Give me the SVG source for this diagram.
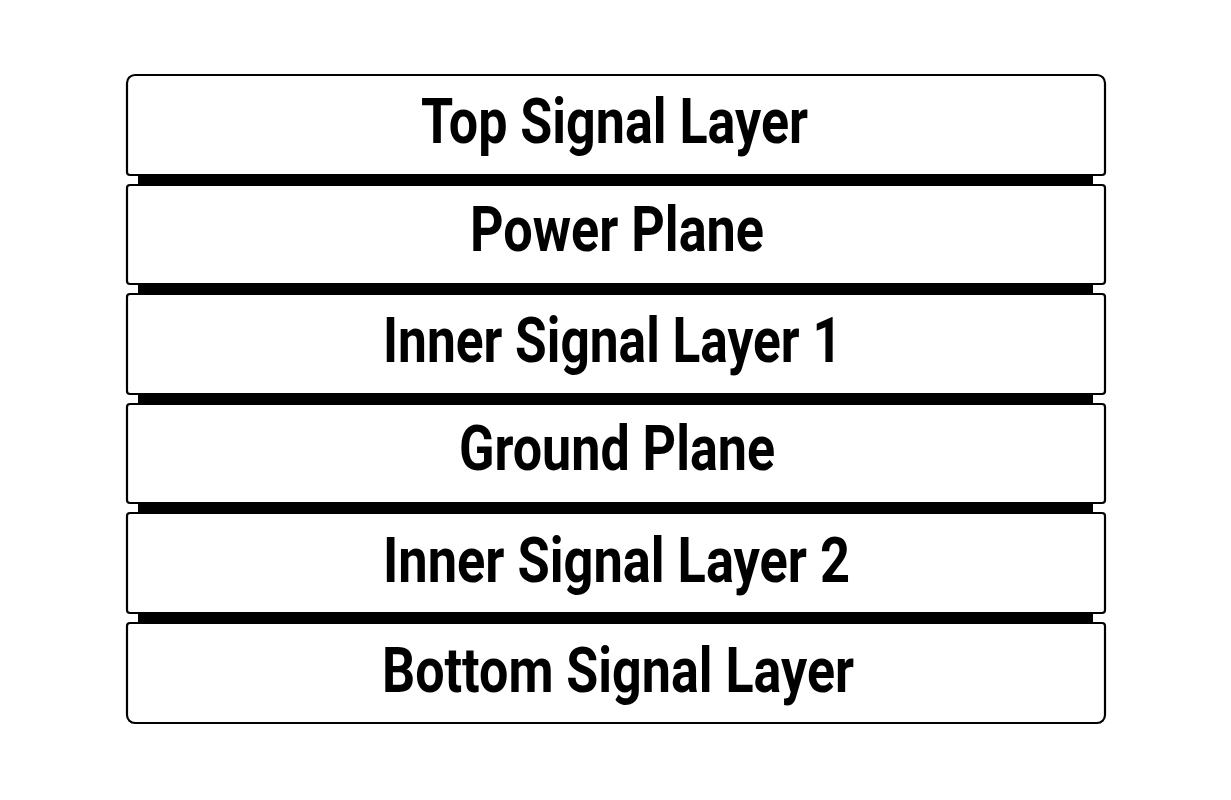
<svg xmlns="http://www.w3.org/2000/svg" width="1231" height="800" viewBox="0 0 1231 800">
<style>
.box{fill:#fff;stroke:#000;stroke-width:2.2}
.bar{fill:#000}
.lbl{font-family:Roboto,"Liberation Sans",sans-serif;font-weight:bold;font-size:63px;fill:#000}
</style>
<rect width="1231" height="800" fill="#fff"/>
<g id="connectors">
<rect class="bar" x="138" y="175" width="955" height="10"/>
<rect class="bar" x="138" y="284" width="955" height="10"/>
<rect class="bar" x="138" y="394" width="955" height="10"/>
<rect class="bar" x="138" y="503" width="955" height="10"/>
<rect class="bar" x="138" y="613" width="955" height="10"/>
</g>
<g id="top-signal">
<path class="box" d="M135,75 H1097 A8,8 0 0 1 1105,83 V172 A3,3 0 0 1 1102,175 H130 A3,3 0 0 1 127,172 V83 A8,8 0 0 1 135,75 Z"/>
<text class="lbl" x="421" y="143" textLength="387" lengthAdjust="spacingAndGlyphs">Top Signal Layer</text>
</g>
<g id="power-plane">
<path class="box" d="M130,185 H1102 A3,3 0 0 1 1105,188 V281 A3,3 0 0 1 1102,284 H130 A3,3 0 0 1 127,281 V188 A3,3 0 0 1 130,185 Z"/>
<text class="lbl" x="470" y="251" textLength="294" lengthAdjust="spacingAndGlyphs">Power Plane</text>
</g>
<g id="inner-signal-1">
<path class="box" d="M130,294 H1102 A3,3 0 0 1 1105,297 V391 A3,3 0 0 1 1102,394 H130 A3,3 0 0 1 127,391 V297 A3,3 0 0 1 130,294 Z"/>
<text class="lbl" x="383" y="362" textLength="459" lengthAdjust="spacingAndGlyphs">Inner Signal Layer 1</text>
</g>
<g id="ground-plane">
<path class="box" d="M130,404 H1102 A3,3 0 0 1 1105,407 V500 A3,3 0 0 1 1102,503 H130 A3,3 0 0 1 127,500 V407 A3,3 0 0 1 130,404 Z"/>
<text class="lbl" x="459" y="470" textLength="316" lengthAdjust="spacingAndGlyphs">Ground Plane</text>
</g>
<g id="inner-signal-2">
<path class="box" d="M130,513 H1102 A3,3 0 0 1 1105,516 V610 A3,3 0 0 1 1102,613 H130 A3,3 0 0 1 127,610 V516 A3,3 0 0 1 130,513 Z"/>
<text class="lbl" x="383" y="582" textLength="467" lengthAdjust="spacingAndGlyphs">Inner Signal Layer 2</text>
</g>
<g id="bottom-signal">
<path class="box" d="M130,623 H1102 A3,3 0 0 1 1105,626 V715 A8,8 0 0 1 1097,723 H135 A8,8 0 0 1 127,715 V626 A3,3 0 0 1 130,623 Z"/>
<text class="lbl" x="382" y="692" textLength="472" lengthAdjust="spacingAndGlyphs">Bottom Signal Layer</text>
</g>
</svg>
